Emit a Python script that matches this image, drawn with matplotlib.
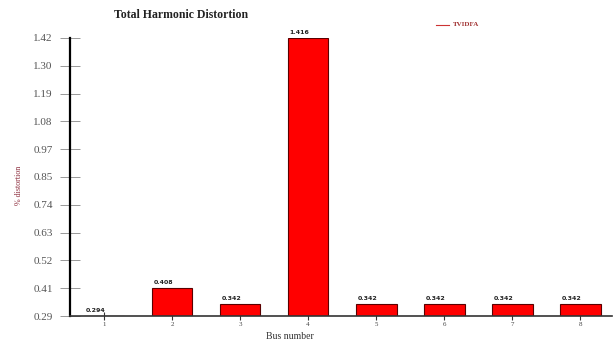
import matplotlib.pyplot as plt
import numpy as np

# THD per bus
buses = [1, 2, 3, 4, 5, 6, 7, 8]
thd = [0.294, 0.408, 0.342, 1.416, 0.342, 0.342, 0.342, 0.342]
ytick_labels = ['0.29', '0.41', '0.52', '0.63', '0.74', '0.85',
                '0.97', '1.08', '1.19', '1.30', '1.42']

ymin, ymax = min(thd), max(thd)
serif = 'Liberation Serif'

fig = plt.figure(figsize=(6.14, 3.41), dpi=100)
ax = fig.add_axes([0.114, 0.0733, 0.883, 0.8153])

# bars grow up from the bottom of the axis
heights = [v - ymin for v in thd]
ax.bar(buses, heights, bottom=ymin, width=0.6, color='#ff0000',
       edgecolor='#5a0000', linewidth=0.8, zorder=2)
for b, v in zip(buses, thd):
    ax.text(b - 0.27, v + 0.012, '%.3f' % v, fontsize=4.5, fontweight='bold',
            ha='left', va='bottom', color='#222222')

ax.set_xlim(0.5, 8.47)
ax.set_ylim(ymin, ymax)
ax.set_yticks(np.linspace(ymin, ymax, len(ytick_labels)))
ax.set_yticklabels(ytick_labels, fontsize=8, family=serif, color='#555555')
ax.set_xticks(buses)
ax.set_xticklabels([str(b) for b in buses], fontsize=5, family=serif,
                   color='#444444')

ax.tick_params(axis='y', direction='inout', length=14, width=0.6,
               color='#888888', pad=5.5)
ax.tick_params(axis='x', direction='inout', length=6, width=0.8,
               color='#333333', pad=1.5)

for s in ['top', 'right']:
    ax.spines[s].set_visible(False)
ax.spines['left'].set_linewidth(1.6)
ax.spines['bottom'].set_linewidth(1.2)
ax.spines['bottom'].set_color('#333333')

ax.set_ylabel('% distortion', family=serif, fontsize=5.8, color='#8b2a3a')
ax.yaxis.set_label_coords(-0.086, 0.47)
ax.set_xlabel('Bus number', family=serif, fontsize=7, color='#333333')
ax.xaxis.set_label_coords(0.405, -0.056)

fig.text(0.295, 0.955, 'Total Harmonic Distortion', family=serif,
         fontsize=8.5, fontweight='bold', ha='center', va='center',
         color='#222222')

# legend entry
fig.lines.append(plt.Line2D([0.71, 0.731], [0.928, 0.928], color='#cc3333',
                            linewidth=0.8, transform=fig.transFigure))
fig.text(0.737, 0.928, 'TVIDFA', family=serif, fontsize=5,
         fontweight='bold', ha='left', va='center', color='#a03030')

fig.savefig('out.png', dpi=100)
